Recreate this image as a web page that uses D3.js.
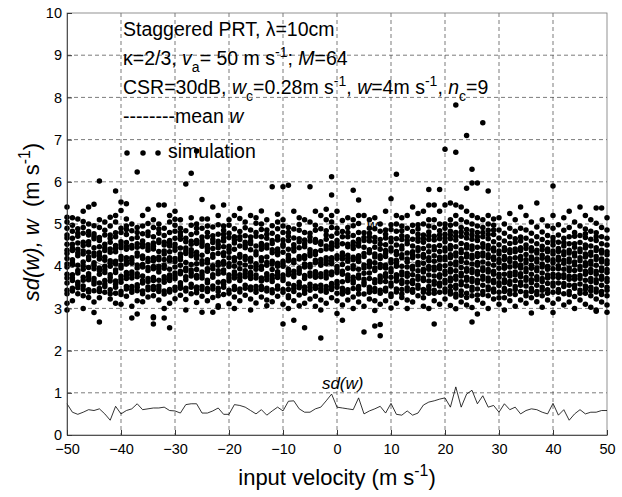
<!DOCTYPE html>
<html>
<head>
<meta charset="utf-8">
<script src="https://cdn.jsdelivr.net/npm/d3@7"></script>
<style>
	body { margin: 0; background: #fff; }
	svg { font-family: "Liberation Sans", Arial, sans-serif; }
</style>
</head>
<body>
<main></main>
<script>

// DATA
// input velocity (m s-1), one simulation column per value
const velocity = [-50,-49,-48,-47,-46,-45,-44,-43,-42,-41,-40,-39,-38,-37,-36,-35,-34,-33,-32,-31,
	-30,-29,-28,-27,-26,-25,-24,-23,-22,-21,-20,-19,-18,-17,-16,-15,-14,-13,-12,-11,
	-10,-9,-8,-7,-6,-5,-4,-3,-2,-1,0,1,2,3,4,5,6,7,8,9,10,11,12,13,14,15,16,17,18,19,
	20,21,22,23,24,25,26,27,28,29,30,31,32,33,34,35,36,37,38,39,40,41,42,43,44,45,46,47,48,49,50];

// simulated spectrum width estimates per velocity, in hundredths of m s-1
const simulation = [
	"296 312 335 343 360 372 381 398 405 418 430 438 452 467 474 490 505 516 540",
	"318 341 348 366 372 380 403 409 415 437 443 452 466 483 497 515",
	"335 349 356 362 384 390 402 425 431 440 455 471 478 489 512",
	"300 330 345 353 367 374 393 400 410 429 436 449 457 478 492 506 530",
	"326 339 344 368 376 382 397 416 422 433 451 458 474 482 500 540",
	"290 315 342 358 364 371 394 402 408 425 431 444 465 471 477 496 547",
	"268 325 340 347 360 381 390 396 417 425 432 446 461 468 492 510 602",
	"338 352 358 366 385 392 400 414 421 437 444 452 474 485 505",
	"322 335 344 365 373 380 400 407 413 433 441 457 466 474 495 516",
	"312 336 350 357 365 385 391 405 412 434 442 449 470 479 505 520 578",
	"310 333 340 362 369 376 396 402 416 423 444 451 458 480 490 532 552",
	"329 346 352 371 378 385 405 412 420 440 447 456 475 487 495 512 548",
	"277 305 338 345 352 372 380 386 407 414 420 443 449 465 484 500",
	"287 318 342 350 356 375 382 396 403 424 431 445 453 468 480 492 623",
	"316 335 341 360 366 377 398 404 418 424 446 452 460 477 495 520",
	"327 344 351 364 371 390 397 411 418 438 444 451 473 481 501 535",
	"263 278 280 330 345 352 366 373 394 399 413 420 441 447 455 470 492 510",
	"320 340 346 353 367 386 394 400 415 421 435 456 462 478 488 500 545",
	"277 300 334 341 362 369 375 395 402 416 429 436 450 457 473 490 545",
	"254 312 339 345 366 372 379 393 413 420 434 448 455 461 480 505 520",
	"323 343 350 370 377 384 398 411 418 438 445 452 466 483 497 511 530",
	"331 348 354 361 382 388 402 415 422 429 443 464 472 480 490 510",
	"296 321 341 348 368 375 389 395 409 430 436 443 458 466 484 595",
	"335 350 357 377 384 391 404 425 432 439 452 459 475 497 515 620",
	"314 337 344 351 372 378 392 406 419 426 433 454 461 479 490 500 673",
	"291 329 345 352 372 379 386 406 413 426 447 454 460 469 490 512 558",
	"318 340 347 361 367 388 394 408 415 435 442 449 470 480 495 512",
	"291 326 346 353 374 380 394 401 421 428 442 456 463 472 493 540",
	"303 306 330 340 348 362 382 389 402 409 430 444 451 459 476 498 520",
	"333 350 357 364 384 391 405 411 425 432 446 460 467 476 485 495 545",
	"311 336 343 365 372 379 399 406 420 433 440 447 468 478 497 510",
	"300 327 345 352 372 379 386 400 413 420 440 455 462 470 489 520",
	"318 339 346 366 373 380 394 407 421 428 448 463 470 482 513 537",
	"331 348 355 375 382 389 403 416 423 444 450 457 472 491 505",
	"296 322 344 351 371 378 385 398 412 419 439 453 460 469 486 520",
	"313 338 345 352 372 379 393 400 406 427 434 448 471 480 502 515",
	"327 345 352 365 372 393 399 413 420 440 447 454 470 487 500 531",
	"306 320 341 348 368 375 382 402 409 422 443 450 466 476 486 510",
	"316 337 344 364 371 378 392 405 412 432 439 454 461 478 496 588",
	"329 346 353 373 380 387 400 407 427 434 441 462 470 489 505 523",
	"263 310 338 345 366 372 379 400 406 412 433 447 452 462 480 495 510 588",
	"300 325 330 345 358 380 386 393 413 419 426 440 461 471 480 492 592",
	"272 318 340 347 354 375 381 388 408 414 436 443 451 467 488 530",
	"306 332 349 355 362 383 390 396 417 423 444 458 465 485 499 515",
	"254 312 336 343 351 371 378 398 405 418 425 446 453 462 480 510",
	"322 343 350 357 377 384 398 404 425 431 439 460 469 478 505 588",
	"305 329 347 353 374 380 387 408 414 428 435 457 463 485 497 530",
	"230 296 320 341 348 355 375 382 402 409 416 437 452 458 489 520",
	"312 338 345 352 372 379 386 406 413 420 441 448 464 474 484 510 535",
	"325 345 352 359 380 386 406 413 420 441 448 455 471 492 505 520 569 612",
	"288 318 336 350 357 364 385 392 399 418 425 447 454 461 478 490 530",
	"272 308 334 341 348 363 381 388 404 417 424 431 453 470 482 508",
	"320 338 344 366 372 379 395 412 419 426 446 452 470 480 492 515",
	"300 327 347 360 366 374 394 401 415 421 442 449 457 473 496 510 580",
	"315 334 345 352 372 379 393 411 418 425 448 455 463 480 501 520 557",
	"244 305 334 356 362 369 383 396 403 423 430 445 461 468 479 520",
	"322 338 344 350 371 384 398 405 412 432 439 460 469 478 490 510",
	"258 295 318 340 347 361 368 390 396 408 422 429 445 458 468 489 515",
	"235 262 310 336 343 363 370 377 397 404 418 425 440 452 463 483 500",
	"318 341 348 364 375 382 396 402 423 430 437 451 467 476 486 530",
	"301 328 334 353 360 374 387 394 408 415 436 443 458 466 487 498 560",
	"312 339 346 365 373 380 400 407 414 428 435 450 465 483 500 520 618",
	"326 334 345 359 366 379 386 400 420 427 441 448 463 472 484 495 515",
	"300 320 342 349 362 376 383 398 410 417 431 453 461 470 490 520",
	"315 338 345 359 366 380 393 400 420 427 434 448 464 482 497 540",
	"330 348 355 369 376 389 403 409 424 437 444 459 466 476 488 498 525",
	"305 325 338 345 366 372 386 393 407 421 428 442 457 465 474 500 530",
	"300 336 345 352 365 379 393 399 413 420 434 448 463 472 481 495 510 545 582",
	"263 318 336 343 357 364 377 391 398 412 425 439 446 462 471 492 510 545",
	"310 338 353 360 374 380 394 401 415 421 435 449 465 474 484 500 530 582",
	"322 339 346 360 367 381 388 401 415 422 436 443 458 467 476 490 500 545 677",
	"307 334 341 352 365 372 386 393 406 420 427 441 449 465 474 483 497 510 550",
	"299 327 334 348 355 369 376 389 403 410 424 431 446 462 471 480 500 520 545 670 782",
	"315 331 341 356 363 377 383 397 411 418 432 439 454 471 481 492 510 540",
	"308 326 336 353 367 374 388 394 408 422 429 443 451 467 477 487 505 530 585 710",
	"268 302 330 343 350 364 371 385 392 405 419 426 440 448 464 474 484 500 520 597 630",
	"287 320 332 346 360 367 381 388 402 409 423 430 445 461 470 480 495 515 597",
	"312 333 340 355 369 376 390 396 410 424 431 445 453 470 480 492 510 740",
	"300 330 344 351 365 372 386 392 406 420 427 441 449 465 475 485 500 520 578",
	"322 339 346 361 367 381 388 402 415 422 436 443 458 475 486 497 512",
	"310 325 338 354 361 374 381 395 409 416 429 436 451 467 486 515",
	"296 325 340 347 361 368 381 395 402 416 423 437 444 460 478 500",
	"318 334 342 357 364 377 384 398 411 418 432 439 454 470 490 525",
	"305 333 345 352 366 379 386 400 407 420 434 441 456 465 483 510",
	"320 340 355 362 375 382 396 403 416 423 437 444 460 469 490 540",
	"312 330 338 353 367 373 387 394 408 415 428 442 450 466 486 520",
	"289 325 340 347 361 368 381 395 402 416 422 436 444 460 478 505",
	"316 333 340 355 368 375 389 396 410 417 431 438 453 470 493 550",
	"303 330 343 350 364 371 384 398 405 419 426 439 447 463 481 510",
	"320 336 344 359 372 379 393 400 414 420 434 441 456 473 495",
	"290 312 338 353 360 374 381 394 408 415 429 436 450 460 468 490 520 590",
	"322 338 345 360 373 380 394 401 414 421 435 442 457 474 498",
	"308 335 352 359 373 380 393 407 414 427 434 448 456 466 485 515",
	"315 333 340 355 369 376 389 396 410 417 431 438 453 470 492 530",
	"300 328 348 355 369 376 390 403 410 424 431 445 453 471 480 505",
	"320 336 343 358 371 378 392 399 413 420 434 441 456 473 495 540",
	"310 336 346 353 367 381 388 401 408 422 429 443 450 468 477 488 520",
	"303 330 342 350 364 371 385 392 405 412 426 433 448 464 483 510",
	"293 296 322 339 346 361 368 381 388 402 416 423 437 444 461 470 479 502 538",
	"315 333 340 355 369 376 389 396 410 417 431 438 453 470 492 538",
	"291 308 330 343 350 364 371 385 392 406 413 427 434 450 466 486 515"
];

// mean w per velocity (m s-1)
const meanW = [4.05,4.10,4.02,4.08,3.98,4.12,4.06,4.00,4.15,4.03,
	4.09,4.01,4.11,4.04,3.99,4.13,4.07,4.02,4.10,4.05,
	4.08,4.00,4.14,4.03,4.06,4.11,4.02,4.09,4.04,3.98,
	4.12,4.05,4.08,4.01,4.10,4.03,4.07,4.00,4.13,4.06,
	4.04,3.99,4.10,4.02,4.08,4.05,4.12,4.01,4.07,4.03,
	4.11,4.04,4.09,4.00,4.14,4.06,4.02,4.10,4.05,4.08,
	4.12,4.03,4.16,4.07,4.10,4.05,4.18,4.09,4.13,4.06,
	4.17,4.04,4.10,4.01,4.08,4.03,4.11,4.00,4.06,4.02,
	4.09,3.98,4.05,4.01,4.07,3.99,4.04,4.00,4.08,3.97,
	4.03,4.01,4.06,3.98,4.04,4.00,4.07,3.99,4.02,3.98,4.03];

// sd(w) per velocity (m s-1)
const sdW = [0.74,0.54,0.49,0.54,0.60,0.58,0.62,0.50,0.35,0.68,
	0.50,0.58,0.62,0.74,0.60,0.62,0.64,0.64,0.66,0.58,
	0.57,0.52,0.72,0.74,0.74,0.52,0.52,0.57,0.64,0.49,
	0.49,0.72,0.70,0.66,0.58,0.50,0.60,0.47,0.57,0.66,
	0.57,0.80,0.81,0.62,0.54,0.54,0.62,0.66,0.81,0.97,
	0.66,0.64,0.62,0.60,0.88,0.50,0.57,0.62,0.68,0.52,
	0.75,0.49,0.47,0.57,0.47,0.52,0.71,0.78,0.81,0.85,
	0.88,0.66,1.14,0.66,0.97,1.06,0.74,0.93,0.66,0.70,
	0.54,0.74,0.60,0.66,0.50,0.58,0.62,0.60,0.54,0.50,
	0.75,0.47,0.60,0.35,0.50,0.60,0.50,0.54,0.54,0.58,0.58];

// tick labels
const xTicks = [-50,-40,-30,-20,-10,0,10,20,30,40,50];
const yTicks = [0,1,2,3,4,5,6,7,8,9,10];


// HELPER: text made of plain, italic, subscript and superscript pieces
function richText(parent, x, y, size, parts) {
	const t = parent.append("text").attr("x", x).attr("y", y).style("font-size", size + "px");
	let shift = 0;
	parts.forEach(([str, kind]) => {
		const target = kind === "sub" ? size * 0.38 : kind === "sup" ? -size * 0.4 : 0;
		const ts = t.append("tspan").attr("dy", target - shift).text(str);
		shift = target;
		if (kind === "sub" || kind === "sup") ts.style("font-size", (size * 0.72) + "px");
		if (kind === "i") ts.style("font-style", "italic");
	});
	return t;
}


// DRAW
function drawChart() {
	const w = 622, h = 497;
	const left = 67, right = 607, top = 13, bottom = 435;

	const xScale = d3.scaleLinear().domain([-50, 50]).range([left, right]);
	const yScale = d3.scaleLinear().domain([0, 10]).range([bottom, top]);

	const svg = d3.select("main").append("svg").attr("width", w).attr("height", h);

	// grid
	const grid = svg.append("g").attr("stroke", "#444").attr("stroke-width", 0.7).attr("stroke-dasharray", "4,3");
	grid.selectAll(".gx").data(xTicks.slice(1, -1)).enter().append("line")
		.attr("x1", d => xScale(d)).attr("x2", d => xScale(d)).attr("y1", top).attr("y2", bottom);
	grid.selectAll(".gy").data(yTicks.slice(1, -1)).enter().append("line")
		.attr("y1", d => yScale(d)).attr("y2", d => yScale(d)).attr("x1", left).attr("x2", right);

	// box
	svg.append("rect").attr("x", left).attr("y", top).attr("width", right - left).attr("height", bottom - top)
		.attr("fill", "none").attr("stroke", "#777").attr("stroke-width", 0.8);

	// simulation points
	const points = [];
	simulation.forEach((s, i) => s.split(" ").forEach(v => points.push([velocity[i], +v / 100])));
	svg.append("g").selectAll("circle").data(points).enter().append("circle")
		.attr("cx", d => xScale(d[0])).attr("cy", d => yScale(d[1])).attr("r", 2.75).attr("fill", "#000");

	// mean w line
	const line = d3.line().x((d, i) => xScale(velocity[i])).y(d => yScale(d));
	svg.append("path").datum(meanW).attr("d", line).attr("fill", "none")
		.attr("stroke", "#000").attr("stroke-width", 0.6);

	// sd(w) line
	svg.append("path").datum(sdW).attr("d", line).attr("fill", "none")
		.attr("stroke", "#000").attr("stroke-width", 0.8);

	// axes
	const xAxis = d3.axisBottom(xScale).tickValues(xTicks).tickSizeInner(-5).tickSizeOuter(0).tickPadding(9);
	const gx = svg.append("g").attr("transform", "translate(0," + bottom + ")").call(xAxis);
	const yAxis = d3.axisLeft(yScale).tickValues(yTicks).tickSizeInner(-5).tickSizeOuter(0).tickPadding(5);
	const gy = svg.append("g").attr("transform", "translate(" + left + ",0)").call(yAxis);
	[gx, gy].forEach(g => {
		g.selectAll("text").style("font-size", "14.5px").attr("fill", "#000").style("font-family", "Liberation Sans, Arial, sans-serif");
		g.select(".domain").attr("stroke", "#333").attr("stroke-width", 0.8);
		g.selectAll(".tick line").attr("stroke", "#333");
	});

	// annotations
	const note = svg.append("g").attr("fill", "#000");
	richText(note, 123, 36, 19.5, [["Staggered PRT, λ=10cm"]]);
	richText(note, 123, 65, 19.5, [["κ=2/3, "], ["v", "i"], ["a", "sub"], ["= 50 m s"], ["-1", "sup"], ["; "], ["M", "i"], ["=64"]]);
	richText(note, 123, 94, 19.5, [["CSR=30dB, "], ["w", "i"], ["c", "sub"], ["=0.28m s"], ["-1", "sup"], [", "], ["w", "i"],
		["=4m s"], ["-1", "sup"], [", "], ["n", "i"], ["c", "sub"], ["=9"]]);
	richText(note, 123, 123, 19.5, [["--------mean "], ["w", "i"]]);
	[127, 143, 158].forEach(cx => note.append("circle").attr("cx", cx).attr("cy", 153).attr("r", 2.75));
	richText(note, 168, 158, 19.5, [["simulation"]]);
	richText(note, xScale(5.5), yScale(4.86), 15, [["w", "i"]]);
	richText(note, xScale(-2.8), yScale(1.1), 17, [["sd(w)", "i"]]);

	// axis titles
	richText(svg, 337, 485, 22, [["input velocity (m s"], ["-1", "sup"], [")"]]).attr("text-anchor", "middle");
	const yt = svg.append("g").attr("transform", "translate(39,222) rotate(-90)");
	richText(yt, 0, 0, 22, [["sd(w), w", "i"], ["  (m s"], ["-1", "sup"], [")"]]).attr("text-anchor", "middle")
		.style("white-space", "pre");
}

document.addEventListener('DOMContentLoaded', () => {
	drawChart();
});
</script>
</body>
</html>
